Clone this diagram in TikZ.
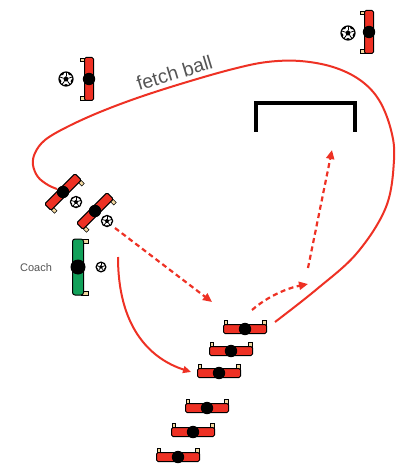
\documentclass[tikz,border=0pt]{standalone}
\usepackage{fontspec}
\setmainfont{Liberation Sans}
\usetikzlibrary{arrows.meta}
\definecolor{pred}{HTML}{EE3124}
\definecolor{pgreen}{HTML}{12A15A}
\definecolor{cream}{HTML}{F2D9A0}
\definecolor{labelgray}{HTML}{555555}
\tikzset{
  run/.style={draw=pred, line width=2pt, -{Triangle[length=8pt,width=7pt]}},
  runplain/.style={draw=pred, line width=2pt},
  pass/.style={draw=pred, line width=2.2pt, dash pattern=on 5pt off 3.5pt, -{Triangle[length=9pt,width=8pt]}},
  goalline/.style={draw=black, line width=4pt},
  player/.pic={
    \draw[fill=cream, line width=0.6pt] (-21,-9) rectangle (-17.5,-2);
    \draw[fill=cream, line width=0.6pt] (17.5,-9) rectangle (21,-2);
    \draw[fill=pred, line width=1pt, rounded corners=1.5pt] (-21.5,-4.5) rectangle (21.5,4.5);
    \fill (0,0) circle (6.2);
  },
  coachpic/.pic={
    \draw[fill=cream, line width=0.6pt] (-28,-10) rectangle (-24,-3);
    \draw[fill=cream, line width=0.6pt] (24,-10) rectangle (28,-3);
    \draw[fill=pgreen, line width=1pt, rounded corners=2.5pt] (-28,-5.5) rectangle (28,5.5);
    \fill (0,0) circle (7.5);
  },
  ball/.pic={
    \fill[white] (0,0) circle (7);
    \begin{scope}
      \clip (0,0) circle (7);
      \foreach \a in {-54,18,90,162,234} \fill (\a:7.4) circle (2.4);
    \end{scope}
    \fill (-90:2.8) -- (-18:2.8) -- (54:2.8) -- (126:2.8) -- (198:2.8) -- cycle;
    \foreach \a in {-90,-18,54,126,198} \draw[line width=0.8pt] (\a:2.8) -- (\a:7);
    \draw[line width=1.2pt] (0,0) circle (7);
  },
  textlabel/.style={text=labelgray, inner sep=0pt},
}
\begin{document}
\begin{tikzpicture}[x=1pt, y=-1pt]
\useasboundingbox[fill=white] (0,0) rectangle (403,465);

% goal
\draw[goalline] (256,132) -- (256,103) -- (355,103) -- (355,132);

% named positions
\coordinate (pTR) at (369,32);
\coordinate (bTR) at (348,33);
\coordinate (pTL) at (89,79);
\coordinate (bTL) at (66,79);
\coordinate (t1) at (63,192);
\coordinate (bt1) at (76,202);
\coordinate (t2) at (95,211);
\coordinate (bt2) at (107,221);
\coordinate (coach) at (78,267);
\coordinate (bco) at (101,267);
\coordinate (l1) at (245,329);
\coordinate (l2) at (231,351);
\coordinate (l3) at (219,373);
\coordinate (l4) at (207,408);
\coordinate (l5) at (193,432);
\coordinate (l6) at (178,457);

% connector ends
\coordinate (fetchA) at (275,322);
\coordinate (fetchB) at (57,189);
\coordinate (passA) at (115,228);
\coordinate (passB) at (212,302);
\coordinate (dribA) at (252,310);
\coordinate (dribB) at (308,284);
\coordinate (shotA) at (308,268);
\coordinate (shotB) at (332,150);
\coordinate (runA) at (118,257);
\coordinate (runB) at (191,372);

% fetch ball loop
\draw[runplain] plot[smooth, tension=0.6] coordinates {
  (fetchA) (317,289) (357,253) (386,207) (394,160) (391,130) (379,100)
  (360,80) (333,67) (300,61) (267,62) (233,69) (187,82) (140,97)
  (100,112) (67,127) (45,140) (35,153) (33,165) (38,177) (48,185) (fetchB)};
\node[textlabel, font=\fontsize{19.5}{20}\selectfont, rotate=17, anchor=base west] (fetchlbl) at (139,91) {fetch ball};

% passes and runs
\draw[pass] (passA) -- (passB);
\draw[pass] (dribA) .. controls (268,296) and (288,288) .. (dribB);
\draw[pass] (shotA) -- (shotB);
\draw[run] (runA) .. controls (118,325) and (148,358) .. (runB);

% players
\pic[rotate=90] at (pTR) {player};
\pic at (bTR) {ball};
\pic[rotate=90] at (pTL) {player};
\pic at (bTL) {ball};
\pic[rotate=-135] at (t1) {player};
\pic[scale=0.8] at (bt1) {ball};
\pic[rotate=-135] at (t2) {player};
\pic[scale=0.8] at (bt2) {ball};
\pic[rotate=-90] at (coach) {coachpic};
\pic[scale=0.7] at (bco) {ball};
\node[textlabel, font=\fontsize{11}{11}\selectfont] (coachlbl) at (36,268) {Coach};

\pic at (l1) {player};
\pic at (l2) {player};
\pic at (l3) {player};
\pic at (l4) {player};
\pic at (l5) {player};
\pic at (l6) {player};
\end{tikzpicture}
\end{document}
